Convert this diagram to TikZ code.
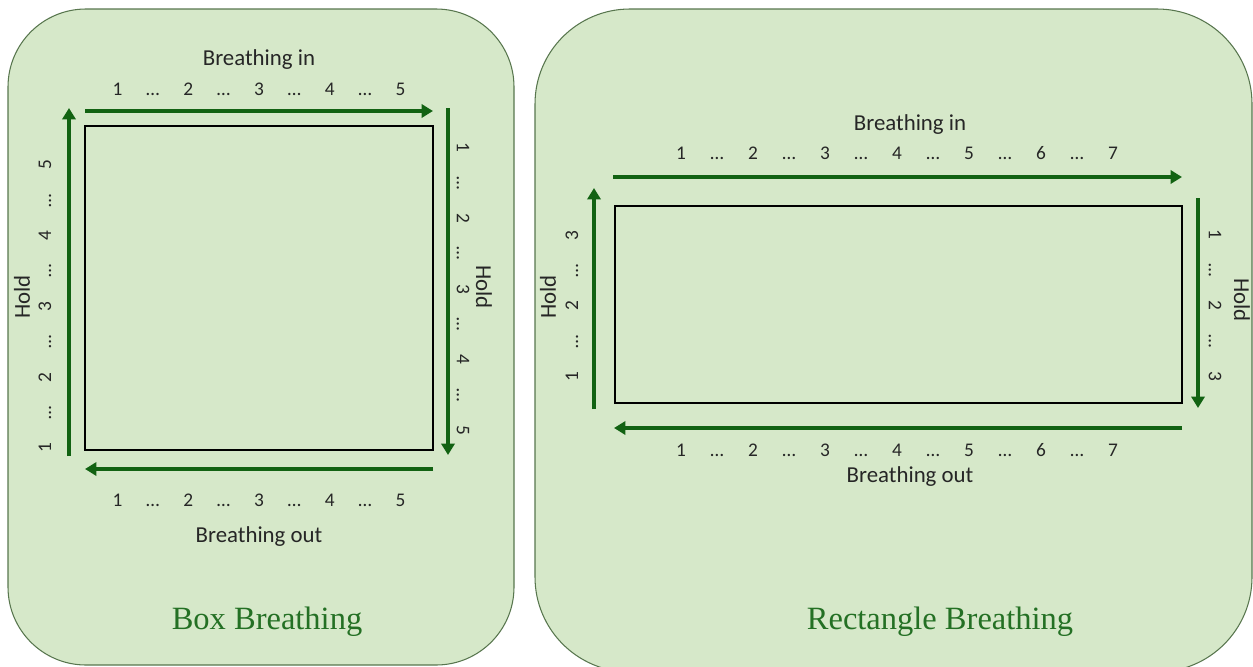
\documentclass[tikz,border=0pt]{standalone}
\usepackage{fontspec}
\setmainfont{Carlito}
\newfontfamily\titlefont{Liberation Serif}
\usepackage{tikz}
\usetikzlibrary{arrows.meta}
\definecolor{panelgreen}{RGB}{214,232,201}
\definecolor{paneledge}{RGB}{88,118,78}
\definecolor{arrowgreen}{RGB}{18,98,18}
\definecolor{titlegreen}{RGB}{36,112,36}
\newcommand{\cnt}[1]{\makebox[0.708cm]{#1}}
\newcommand{\cntw}[1]{\makebox[0.72cm]{#1}}

\begin{document}
\begin{tikzpicture}[x=0.02cm,y=-0.02cm,>={Triangle[length=6.5pt,width=7.5pt]},panel/.style={draw=paneledge,fill=panelgreen,line width=0.6pt},breath/.style={->,arrowgreen,line width=2.1pt},frame/.style={draw=black,line width=0.8pt},wordtext/.style={inner sep=0pt,text=black!85,font=\fontsize{13}{15}\selectfont},countrow/.style={inner sep=0pt,text=black!85,font=\fontsize{11}{13}\selectfont},titlenode/.style={inner sep=0pt,text=titlegreen,font=\titlefont\fontsize{18.5}{22}\selectfont}]
	
	\useasboundingbox (0,0) rectangle (1253,666);
	
	\draw [panel, rounded corners=1.56cm] (8,9) rectangle (514,665);
	\draw [panel, rounded corners=1.9cm] (535,9) rectangle (1252,672);
	
	\draw [frame] (85,126) rectangle (433,450);
	\draw [frame] (615,206) rectangle (1182,403);
	
	\coordinate (bin0) at (85,111);
	\coordinate (bin1) at (433,111);
	\coordinate (bhr0) at (448,108);
	\coordinate (bhr1) at (448,455);
	\coordinate (bout0) at (433,469);
	\coordinate (bout1) at (85,469);
	\coordinate (bhl0) at (69,456);
	\coordinate (bhl1) at (69,108);
	
	\coordinate (rin0) at (613,177);
	\coordinate (rin1) at (1182,177);
	\coordinate (rhr0) at (1198,198);
	\coordinate (rhr1) at (1198,408);
	\coordinate (rout0) at (1182,428);
	\coordinate (rout1) at (614,428);
	\coordinate (rhl0) at (594,409);
	\coordinate (rhl1) at (594,188);
	
	\node [wordtext] (binlabel) at (259,60) {Breathing in};
	\node [countrow] (bincount) at (259,89) {\cnt{1}\cnt{\ldots}\cnt{2}\cnt{\ldots}\cnt{3}\cnt{\ldots}\cnt{4}\cnt{\ldots}\cnt{5}};
	\node [countrow, rotate=-90] (bhrcount) at (463,289) {\cnt{1}\cnt{\ldots}\cnt{2}\cnt{\ldots}\cnt{3}\cnt{\ldots}\cnt{4}\cnt{\ldots}\cnt{5}};
	\node [wordtext, rotate=-90] (bhrlabel) at (484,287) {Hold};
	\node [countrow] (boutcount) at (259,500) {\cnt{1}\cnt{\ldots}\cnt{2}\cnt{\ldots}\cnt{3}\cnt{\ldots}\cnt{4}\cnt{\ldots}\cnt{5}};
	\node [wordtext] (boutlabel) at (259,537) {Breathing out};
	\node [countrow, rotate=90] (bhlcount) at (45,306.5) {\cnt{1}\cnt{\ldots}\cnt{2}\cnt{\ldots}\cnt{3}\cnt{\ldots}\cnt{4}\cnt{\ldots}\cnt{5}};
	\node [wordtext, rotate=90] (bhllabel) at (22,297) {Hold};
	\node [titlenode] (boxtitle) at (267,622) {Box Breathing};
	
	\node [wordtext] (rinlabel) at (910,125) {Breathing in};
	\node [countrow] (rincount) at (897,153) {\cntw{1}\cntw{\ldots}\cntw{2}\cntw{\ldots}\cntw{3}\cntw{\ldots}\cntw{4}\cntw{\ldots}\cntw{5}\cntw{\ldots}\cntw{6}\cntw{\ldots}\cntw{7}};
	\node [countrow, rotate=-90] (rhrcount) at (1215,305.5) {\cnt{1}\cnt{\ldots}\cnt{2}\cnt{\ldots}\cnt{3}};
	\node [wordtext, rotate=-90] (rhrlabel) at (1242,300) {Hold};
	\node [countrow] (routcount) at (897,450) {\cntw{1}\cntw{\ldots}\cntw{2}\cntw{\ldots}\cntw{3}\cntw{\ldots}\cntw{4}\cntw{\ldots}\cntw{5}\cntw{\ldots}\cntw{6}\cntw{\ldots}\cntw{7}};
	\node [wordtext] (routlabel) at (910,477) {Breathing out};
	\node [countrow, rotate=90] (rhlcount) at (572,306) {\cnt{1}\cnt{\ldots}\cnt{2}\cnt{\ldots}\cnt{3}};
	\node [wordtext, rotate=90] (rhllabel) at (548,297) {Hold};
	\node [titlenode] (recttitle) at (940,622) {Rectangle Breathing};
	
	\draw [breath] (bin0) to (bin1);
	\draw [breath] (bhr0) to (bhr1);
	\draw [breath] (bout0) to (bout1);
	\draw [breath] (bhl0) to (bhl1);
	
	\draw [breath] (rin0) to (rin1);
	\draw [breath] (rhr0) to (rhr1);
	\draw [breath] (rout0) to (rout1);
	\draw [breath] (rhl0) to (rhl1);
\end{tikzpicture}
\end{document}
